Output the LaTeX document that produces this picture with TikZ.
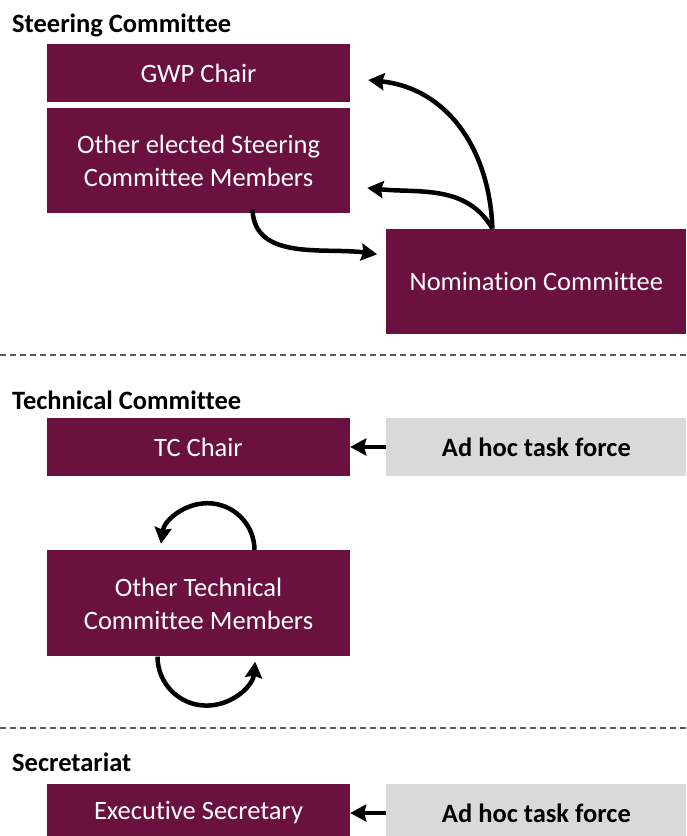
\documentclass[tikz,border=0pt]{standalone}
\usepackage{fontspec}
\setmainfont{Carlito}[Ligatures=NoCommon]
\usetikzlibrary{positioning,arrows.meta,calc}
\definecolor{maroon}{RGB}{106,17,64}
\definecolor{lightgrey}{RGB}{217,217,217}
\tikzstyle{mbox}=[rectangle, fill=maroon, text=white, minimum width=303pt, minimum height=58pt, inner sep=0pt, align=center, font=\fontsize{26.5}{33}\selectfont]
\tikzstyle{tallbox}=[minimum height=105pt]
\tikzstyle{gbox}=[rectangle, fill=lightgrey, text=black, minimum width=300pt, minimum height=58pt, inner sep=0pt, align=center, font=\fontsize{26.5}{33}\selectfont\bfseries]
\tikzstyle{seclabel}=[anchor=west, inner sep=0pt, font=\fontsize{26.5}{33}\selectfont\bfseries]
\tikzstyle{parrow}=[-{Stealth[length=16pt,width=17pt,inset=2pt]}, line width=4.5pt]
\tikzstyle{sepline}=[line width=1.3pt, gray!70!black, dash pattern=on 6pt off 4pt]

\begin{document}
\begin{tikzpicture}[x=1pt, y=-1pt]
\useasboundingbox (0,0) rectangle (686,836);
\node (SCL) [seclabel] at (12,25) {Steering Committee};
\node (GWP) [mbox] at (198.5,73) {GWP Chair};
\node (OSC) [mbox,tallbox,below=6pt of GWP] {Other elected Steering\\Committee Members};
\node (NOM) [mbox,tallbox,minimum width=300pt,below right=15pt and 36pt of OSC] {Nomination Committee};
 \draw[parrow] ([xshift=-44pt]NOM.north) to[out=92,in=-6,looseness=1.05] ([xshift=18pt,yshift=-7pt]GWP.east);
 \draw[parrow] ([xshift=-44pt]NOM.north) to[out=120,in=-6] ([xshift=17pt,yshift=-27pt]OSC.east);
 \draw[parrow] ([xshift=54pt,yshift=4pt]OSC.south) to[out=-88,in=172] ([xshift=-9pt,yshift=27pt]NOM.west);
\draw[sepline] (0,355) -- (686,355);
\node (TCL) [seclabel] at (12,400) {Technical Committee};
\node (TCC) [mbox] at (198.5,447) {TC Chair};
\node (TCA) [gbox,right=36pt of TCC] {Ad hoc task force};
 \draw[parrow] (TCA.west) -- (TCC.east);
\node (OTC) [mbox,tallbox,minimum height=106pt,below=74pt of TCC] {Other Technical\\Committee Members};
 \draw[parrow] ([xshift=56pt]OTC.north) arc[start angle=0, end angle=172, radius=47pt];
 \draw[parrow] ([xshift=-41pt]OTC.south) arc[start angle=180, end angle=354, radius=49pt];
\draw[sepline] (0,728) -- (686,728);
\node (SEL) [seclabel] at (12,762) {Secretariat};
\node (ES) [mbox] at (198.5,813) {Executive Secretary};
\node (ESA) [gbox,right=36pt of ES] {Ad hoc task force};
 \draw[parrow] (ESA.west) -- (ES.east);
\end{tikzpicture}
\end{document}
